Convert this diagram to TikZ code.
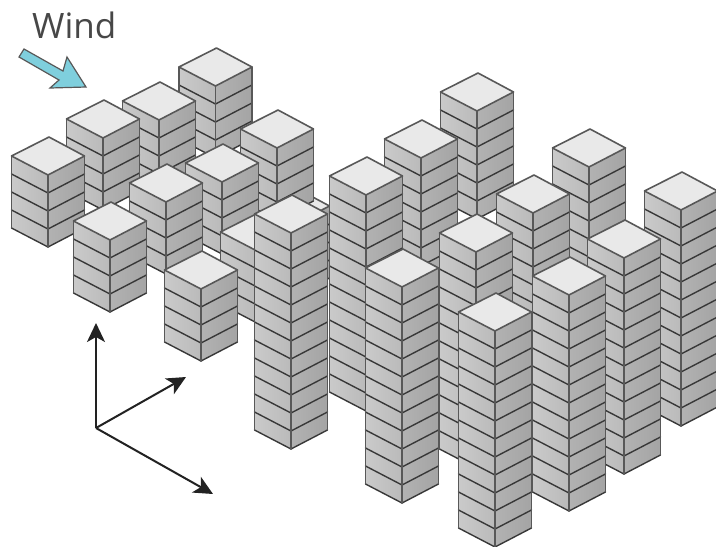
\documentclass[tikz,border=0pt]{standalone}
\usepackage{fontspec}
\setmainfont{Open Sans}
\usetikzlibrary{arrows.meta}
\definecolor{topc}{HTML}{E9E9E9}
\definecolor{leftA}{HTML}{CACACA}
\definecolor{leftB}{HTML}{BABABA}
\definecolor{rightA}{HTML}{B2B2B2}
\definecolor{rightB}{HTML}{A4A4A4}
\definecolor{edgec}{HTML}{585858}
\definecolor{floorc}{HTML}{383838}
\definecolor{windc}{HTML}{7FCFDD}
\definecolor{axisc}{HTML}{222222}
\tikzset{
  vedge/.style={draw=edgec,line width=1.9pt,line cap=round},
  floorline/.style={draw=floorc,line width=1.4pt,line cap=round},
  topface/.style={fill=topc,draw=edgec,line width=1.6pt,line join=round},
  axisline/.style={draw=axisc,line width=2pt,-{Stealth[length=19pt,width=18pt,inset=5pt]}},
  windarrow/.style={fill=windc,draw=edgec,line width=1.2pt,line join=miter},
}
\newcommand{\towerblock}[3]{%
  \pgfmathsetmacro{\tc}{#1}\pgfmathsetmacro{\tf}{#2}\pgfmathsetmacro{\tH}{18*#3}
  \pgfmathsetmacro{\tl}{\tc-36.5}\pgfmathsetmacro{\tr}{\tc+36.5}
  \pgfmathsetmacro{\tb}{\tf+\tH}
  \shade[left color=leftA,right color=leftB] (\tl,\tf-19) -- (\tc,\tf) -- (\tc,\tb) -- (\tl,\tb-19) -- cycle;
  \shade[left color=rightA,right color=rightB] (\tr,\tf-19) -- (\tc,\tf) -- (\tc,\tb) -- (\tr,\tb-19) -- cycle;
  \foreach \k in {1,...,#3}{
    \pgfmathsetmacro{\ty}{\tf+18*\k}
    \draw[floorline] (\tl,\ty-19) -- (\tc,\ty) -- (\tr,\ty-19);
  }
  \draw[vedge] (\tl,\tf-19) -- (\tl,\tb-19);
  \draw[vedge] (\tc,\tf) -- (\tc,\tb);
  \draw[vedge] (\tr,\tf-19) -- (\tr,\tb-19);
  \draw[topface] (\tl,\tf-19) -- (\tc+1,\tf-38) -- (\tr,\tf-19) -- (\tc,\tf) -- cycle;
}
\begin{document}
\begin{tikzpicture}[x=1pt,y=-1pt]
\useasboundingbox (0,0) rectangle (716,547);
\fill[white] (0,0) rectangle (716,547);
\towerblock{293}{225}{4}
\towerblock{215.5}{86}{4}
\towerblock{159}{120}{4}
\towerblock{103}{138}{4}
\towerblock{48}{175}{4}
\towerblock{277}{148}{4}
\towerblock{222}{182}{4}
\towerblock{166}{202}{4}
\towerblock{110}{240}{4}
\towerblock{257}{251}{4}
\towerblock{201}{289}{4}
\towerblock{477}{111}{6}
\towerblock{421}{158}{10}
\towerblock{366}{195}{12}
\towerblock{589}{167}{8}
\towerblock{533}{213}{10}
\towerblock{681}{210}{12}
\towerblock{476}{252}{12}
\towerblock{624}{258}{12}
\towerblock{291}{233}{12}
\towerblock{402}{287}{12}
\towerblock{569}{295}{12}
\towerblock{495}{331}{12}
\node[text=black!72,font=\fontsize{35}{38}\selectfont,inner sep=0pt,anchor=base west] (wind) at (32,38) {Wind};
\draw[windarrow] (19,57) -- (24,49) -- (63,71) -- (67,57) -- (86,87) -- (50,88) -- (59,80) -- cycle;
\coordinate (o) at (96,428);
\coordinate (up) at (96,323);
\coordinate (ne) at (186,377);
\coordinate (se) at (213,494);
\draw[axisline] (o) -- (up);
\draw[axisline] (o) -- (ne);
\draw[axisline] (o) -- (se);
\end{tikzpicture}
\end{document}
